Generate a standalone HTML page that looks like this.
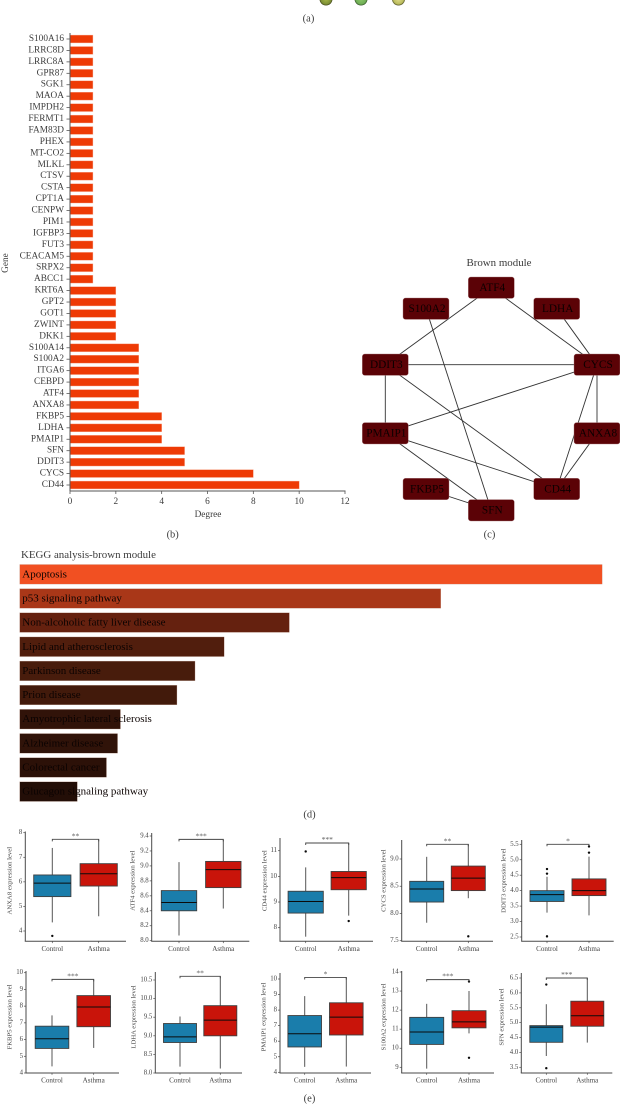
<!DOCTYPE html>
<html lang="en">
<head>
<meta charset="utf-8">
<title>Brown module analysis figure</title>
<style>
html,body{margin:0;padding:0;background:#fff;width:620px;height:1104px;overflow:hidden}
svg{display:block;font-family:"Liberation Serif",serif;filter:blur(0.3px)}
</style>
</head>
<body>
<svg id="fig" width="620" height="1104" viewBox="0 0 620 1104" xmlns="http://www.w3.org/2000/svg">
<defs>
<radialGradient id="g1"><stop offset="0" stop-color="#a8b848"/><stop offset="0.8" stop-color="#7d8f35"/><stop offset="1" stop-color="#3c3f18"/></radialGradient>
<radialGradient id="g2"><stop offset="0" stop-color="#8cc868"/><stop offset="0.8" stop-color="#6fae55"/><stop offset="1" stop-color="#2f4a25"/></radialGradient>
<radialGradient id="g3"><stop offset="0" stop-color="#e3dc8a"/><stop offset="0.8" stop-color="#b9bb5c"/><stop offset="1" stop-color="#45451f"/></radialGradient>
</defs>
</svg>
<script>
// ---------- Panel (b): gene degree ----------
const geneNames = ['S100A16','LRRC8D','LRRC8A','GPR87','SGK1','MAOA','IMPDH2','FERMT1','FAM83D','PHEX','MT-CO2','MLKL','CTSV','CSTA','CPT1A','CENPW','PIM1','IGFBP3','FUT3','CEACAM5','SRPX2','ABCC1','KRT6A','GPT2','GOT1','ZWINT','DKK1','S100A14','S100A2','ITGA6','CEBPD','ATF4','ANXA8','FKBP5','LDHA','PMAIP1','SFN','DDIT3','CYCS','CD44'];
const geneDegrees = [1,1,1,1,1,1,1,1,1,1,1,1,1,1,1,1,1,1,1,1,1,1,2,2,2,2,2,3,3,3,3,3,3,4,4,4,5,5,8,10];
const degreeTicks = [0,2,4,6,8,10,12];

// ---------- Panel (c): network ----------
const networkNodes = ['ATF4','S100A2','LDHA','DDIT3','CYCS','PMAIP1','ANXA8','FKBP5','CD44','SFN'];
const networkEdges = [['ATF4','DDIT3'],['ATF4','CYCS'],['S100A2','SFN'],['LDHA','CYCS'],['DDIT3','CYCS'],['DDIT3','PMAIP1'],['DDIT3','CD44'],['PMAIP1','CYCS'],['PMAIP1','CD44'],['PMAIP1','SFN'],['FKBP5','SFN'],['CYCS','ANXA8'],['CYCS','CD44'],['ANXA8','CD44']];

// ---------- Panel (d): KEGG ----------
const keggTerms = ['Apoptosis','p53 signaling pathway','Non-alcoholic fatty liver disease','Lipid and atherosclerosis','Parkinson disease','Prion disease','Amyotrophic lateral sclerosis','Alzheimer disease','Colorectal cancer','Glucagon signaling pathway'];
const keggScores = [10,7.23,4.63,3.51,3.01,2.70,1.73,1.68,1.49,0.99];

// ---------- Panel (e): box plots. Stats = [low whisker, q1, median, q3, high whisker] ----------
const boxGenes = ['ANXA8','ATF4','CD44','CYCS','DDIT3','FKBP5','LDHA','PMAIP1','S100A2','SFN'];
const controlStats = [
 [4.35,5.4,5.95,6.28,7.38],[8.07,8.40,8.51,8.67,9.05],[7.65,8.57,9.02,9.42,10.35],[7.83,8.21,8.45,8.59,9.04],[3.29,3.65,3.87,4.0,4.45],
 [4.4,5.47,6.05,6.8,7.45],[8.17,8.82,8.97,9.33,9.52],[4.35,5.63,6.48,7.65,8.9],[8.93,10.2,10.85,11.62,12.33],[3.88,4.34,4.85,4.9,5.62]];
const asthmaStats = [
 [4.6,5.83,6.33,6.74,7.73],[8.43,8.71,8.95,9.06,9.35],[8.47,9.48,9.95,10.19,11.3],[8.28,8.42,8.65,8.87,9.27],[3.2,3.84,4.0,4.38,5.1],
 [5.5,6.77,7.95,8.63,9.6],[8.12,9.0,9.42,9.81,10.6],[4.37,6.4,7.55,8.47,10.1],[10.78,11.07,11.38,11.97,13.0],[4.33,4.88,5.23,5.72,6.5]];
const controlOutliers = [[3.8],[],[10.97],[],[4.55,4.7,2.52],[],[],[],[],[6.28,3.47]];
const asthmaOutliers = [[],[],[8.26],[7.58],[5.23,5.43],[],[],[],[13.5,9.5],[]];
const bracketLevels = [7.73,9.355,11.3,9.27,5.5,9.6,10.6,10.1,13.6,6.5];
const significance = ['**','***','***','**','*','***','**','*','***','***'];
const boxTicks = [
 [4,5,6,7,8],[8.0,8.2,8.4,8.6,8.8,9.0,9.2,9.4],[8,9,10,11],[7.5,8.0,8.5,9.0],[2.5,3.0,3.5,4.0,4.5,5.0,5.5],
 [4,5,6,7,8,9,10],[8.0,8.5,9.0,9.5,10.0,10.5],[4,5,6,7,8,9,10],[9,10,11,12,13,14],[3.5,4.0,4.5,5.0,5.5,6.0,6.5]];
const boxTickDecimals = [0,1,0,1,1,0,1,0,0,1];
const groupLabels = ['Control','Asthma'];

// ---------- Layout (not data) ----------
const NS = 'http://www.w3.org/2000/svg';
const svg = document.getElementById('fig');
function mk(tag, attrs, name, parent, txt) {
  const el = document.createElementNS(NS, tag);
  for (const k in attrs) el.setAttribute(k, attrs[k]);
  
  
  if (txt !== undefined) el.textContent = txt;
  (parent || svg).appendChild(el);
  return el;
}
function label(x, y, s, size, name, anchor, fill, parent) {
  return mk('text', {x:x, y:y, 'font-size':size, fill:fill||'#3c3c3c', 'text-anchor':anchor||'middle', 'dominant-baseline':'central'}, name, parent, s);
}
function line(x1,y1,x2,y2,stroke,w,name,parent) {
  return mk('line', {x1:x1,y1:y1,x2:x2,y2:y2,stroke:stroke,'stroke-width':w}, name, parent);
}
function slug(s){ return s.toLowerCase().replace(/[^a-z0-9]+/g,'-'); }

// Panel (a) fragment
const fragA = mk('g', {}, 'panel-a-fragment');
[[326,'url(#g1)'],[361,'url(#g2)'],[398.5,'url(#g3)']].forEach(function(c,i){
  mk('circle', {cx:c[0], cy:-1, r:6.5, fill:c[1]}, 'cropped-node-'+(i+1), fragA);
});
label(308.5, 19, '(a)', 10.5, 'panel-a-caption');

// Panel (b)
(function(){
  const g = mk('g', {}, 'degree-bar-chart');
  const x0 = 70, x1 = 345, y0 = 39, step = 11.436, barH = 7.8, axisY = 491;
  const maxTick = degreeTicks[degreeTicks.length-1];
  const xs = v => x0 + v/maxTick*(x1-x0);
  const ys = i => y0 + i*step;
  geneNames.forEach(function(n,i){
    mk('rect', {x:x0, y:ys(i)-barH/2, width:xs(geneDegrees[i])-x0, height:barH, fill:'#ee3a05', stroke:'#f7a488', 'stroke-width':0.4}, 'bar-'+slug(n), g);
    line(66.5, ys(i), x0, ys(i), '#555', 0.8, 'y-tick-'+slug(n), g);
    label(64, ys(i), n, 9.3, 'y-tick-label-'+slug(n), 'end', '#3c3c3c', g);
  });
  line(x0, 33, x0, axisY, '#555', 1, 'y-axis-line', g);
  line(x0, axisY, x1+0.5, axisY, '#555', 1, 'x-axis-line', g);
  degreeTicks.forEach(function(t){
    line(xs(t), axisY, xs(t), axisY+3, '#555', 0.8, 'x-tick-'+t, g);
    label(xs(t), 502, String(t), 9.3, 'x-tick-label-'+t, 'middle', '#3c3c3c', g);
  });
  label(208, 515, 'Degree', 9.3, 'x-axis-title', 'middle', '#3c3c3c', g);
  const yt = label(6, 263, 'Gene', 9.3, 'y-axis-title', 'middle', '#3c3c3c', g);
  yt.setAttribute('transform', 'rotate(-90 6 263)');
  label(172.7, 535, '(b)', 10.5, 'panel-b-caption');
})();

// Panel (c)
(function(){
  const g = mk('g', {}, 'brown-module-network');
  const cols = [385.3,426,491.3,556.7,597];
  const rows = [287.7,308.7,364.7,433.3,489,510.3];
  const place = {ATF4:[2,0],S100A2:[1,1],LDHA:[3,1],DDIT3:[0,2],CYCS:[4,2],PMAIP1:[0,3],ANXA8:[4,3],FKBP5:[1,4],CD44:[3,4],SFN:[2,5]};
  const pos = n => [cols[place[n][0]], rows[place[n][1]]];
  label(499, 263, 'Brown module', 10.9, 'network-title', 'middle', '#3c3c3c', g);
  networkEdges.forEach(function(e){
    const a = pos(e[0]), b = pos(e[1]);
    line(a[0],a[1],b[0],b[1],'#333',0.9,'edge-'+slug(e[0])+'-'+slug(e[1]),g);
  });
  networkNodes.forEach(function(n){
    const p = pos(n);
    mk('rect', {x:p[0]-23, y:p[1]-10.7, width:46, height:21.4, rx:2.5, fill:'#5b0206', stroke:'#a87a7c', 'stroke-width':0.4}, 'node-'+slug(n), g);
    label(p[0]+1, p[1]+0.3, n, 11.3, 'node-label-'+slug(n), 'middle', '#0c0000', g);
  });
  label(489.5, 535, '(c)', 10.5, 'panel-c-caption');
})();

// Panel (d)
(function(){
  const g = mk('g', {}, 'kegg-bar-chart');
  const x0 = 19.7, fullW = 582.5, y0 = 574.3, step = 24.15, h = 19.6;
  const maxScore = Math.max.apply(null, keggScores);
  const stops = [[1,[35,14,7]],[3,[72,28,12]],[4.6,[100,33,15]],[7.2,[168,55,24]],[10,[241,80,34]]];
  function colour(v){
    let i = 0;
    while (i < stops.length-2 && v > stops[i+1][0]) i++;
    const a = stops[i], b = stops[i+1], t = Math.max(0,(v-a[0])/(b[0]-a[0]));
    return 'rgb('+[0,1,2].map(k => Math.round(a[1][k]+(b[1][k]-a[1][k])*t)).join(',')+')';
  }
  label(21, 555, 'KEGG analysis-brown module', 10.9, 'kegg-title', 'start', '#3c3c3c', g);
  keggTerms.forEach(function(t,i){
    const y = y0 + i*step;
    mk('rect', {x:x0, y:y-h/2, width:keggScores[i]/maxScore*fullW, height:h, fill:colour(keggScores[i]), stroke:'#c9a99c', 'stroke-width':0.3}, 'bar-'+slug(t), g);
    label(22.3, y, t, 11, 'label-'+slug(t), 'start', '#0c0302', g);
  });
  label(309.5, 815, '(d)', 10.5, 'panel-d-caption');
})();

// Panel (e)
(function(){
  // frame: axis x, right end, axis top, axis bottom, control centre, asthma centre, box half-width,
  // calibration [v1,py1,v2,py2], title x
  const frames = [
   [25.3,126,831.5,941.3,52.3,98.7,18.6,[4,931,8,832.7],10],
   [151.7,249.3,833,941.3,179,223.3,17.7,[8,940.7,9.4,836],133],
   [280,373,838,941.3,305.7,348.7,17.6,[8,927.7,11,850.7],265],
   [401.7,493,840,941.3,426.7,468.3,17,[7.5,940.7,9,859],384],
   [521.7,613.7,840,941.3,547,589,17,[2.5,937,5.5,844.3],504],
   [26,119,971,1073,52,93.7,16.8,[4,1073,10,972.7],10],
   [155.3,242,972,1073,180,220.3,16.5,[8,1073,10.5,980],134],
   [280,371,973,1073,304.7,346.3,16.8,[4,1072.3,10,979],264],
   [401.7,494,971,1073,426.7,469,17,[9,1067.3,14,972],384],
   [521.3,612.3,973,1073,546.3,587.3,16.5,[3.5,1067.3,6.5,978],502]
  ];
  const titleY = [880.7,1017];
  boxGenes.forEach(function(gene,i){
    const f = frames[i], c = f[7], key = slug(gene);
    const y = v => c[1] + (v-c[0])/(c[2]-c[0])*(c[3]-c[1]);
    const g = mk('g', {}, 'boxplot-'+key);
    // axes
    line(f[0], f[2], f[0], f[3], '#4a4a4a', 1, key+'-y-axis', g);
    line(f[0]-0.5, f[3], f[1], f[3], '#4a4a4a', 1, key+'-x-axis', g);
    boxTicks[i].forEach(function(t){
      const s = t.toFixed(boxTickDecimals[i]);
      line(f[0]-2, y(t), f[0], y(t), '#4a4a4a', 0.7, key+'-y-tick-'+s, g);
      label(f[0]-3, y(t), s, 6.8, key+'-y-tick-label-'+s, 'end', '#444', g);
    });
    const t = label(f[8], titleY[i<5?0:1], gene+' expression level', 6.7, key+'-y-axis-title', 'middle', '#444', g);
    t.setAttribute('transform', 'rotate(-90 '+f[8]+' '+titleY[i<5?0:1]+')');
    // groups
    [[controlStats[i],controlOutliers[i],f[4],'#1a7dab','control'],[asthmaStats[i],asthmaOutliers[i],f[5],'#c9140a','asthma']].forEach(function(d,j){
      const st = d[0], cx = d[2], nm = key+'-'+d[4];
      line(cx, y(st[0]), cx, y(st[4]), '#555', 1, nm+'-whisker', g);
      mk('rect', {x:cx-f[6], y:y(st[3]), width:f[6]*2, height:y(st[1])-y(st[3]), fill:d[3], stroke:'#3f3f3f', 'stroke-width':0.9}, nm+'-box', g);
      line(cx-f[6], y(st[2]), cx+f[6], y(st[2]), '#0b0b0b', 1, nm+'-median', g);
      d[1].forEach(function(o,k){
        mk('circle', {cx:cx, cy:y(o), r:1.2, fill:'#0a0a0a'}, nm+'-outlier-'+(k+1), g);
      });
      line(cx, f[3], cx, f[3]+1.8, '#4a4a4a', 0.7, nm+'-x-tick', g);
      label(cx, f[3]+7.5, groupLabels[j], 7.1, nm+'-x-label', 'middle', '#444', g);
    });
    // bracket
    const by = y(bracketLevels[i]);
    mk('path', {d:'M'+f[4]+' '+(by+2)+'V'+by+'H'+f[5]+'V'+(by+2), fill:'none', stroke:'#444', 'stroke-width':0.9}, key+'-significance-bracket', g);
    mk('text', {x:(f[4]+f[5])/2, y:by-1, 'font-size':7.5, fill:'#555', 'text-anchor':'middle'}, key+'-significance-stars', g, significance[i]);
  });
  label(309.5, 1099, '(e)', 10.5, 'panel-e-caption');
})();
</script>
</body>
</html>
